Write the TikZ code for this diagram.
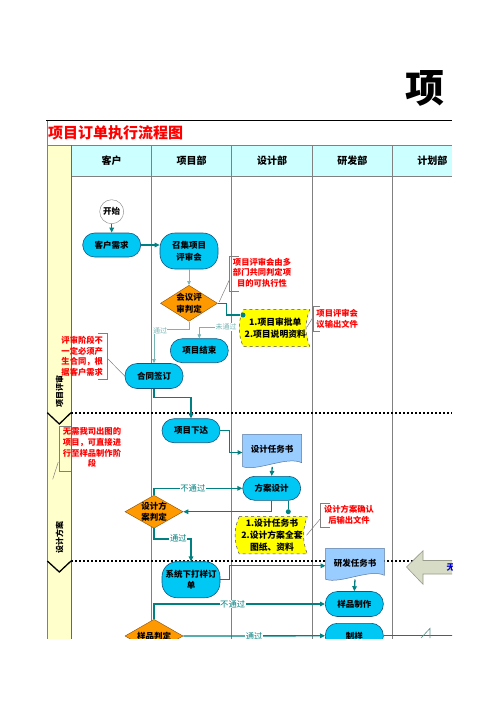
\documentclass[tikz,border=0pt]{standalone}
\usepackage{fontspec}
\setmainfont{Noto Sans CJK SC}
\usetikzlibrary{arrows.meta,calc,shapes.geometric}
\definecolor{cyanfill}{RGB}{0,200,245}
\definecolor{nodeedge}{RGB}{20,85,125}
\definecolor{orangefill}{RGB}{255,153,0}
\definecolor{orangeedge}{RGB}{150,90,20}
\definecolor{docblue}{RGB}{153,204,255}
\definecolor{docedge}{RGB}{90,120,160}
\definecolor{tapeyellow}{RGB}{255,255,0}
\definecolor{flowteal}{RGB}{0,128,128}
\definecolor{lightteal}{RGB}{120,180,180}
\definecolor{headcyan}{RGB}{204,255,255}
\definecolor{bandyellow}{RGB}{255,255,204}
\definecolor{gridgray}{RGB}{128,128,128}
\definecolor{notered}{RGB}{255,0,0}
\definecolor{khaki}{RGB}{214,220,198}
\definecolor{khakiedge}{RGB}{150,155,140}
\definecolor{textblue}{RGB}{0,0,204}
\newcommand\myfnode{\fontsize{8.5}{11.5}\selectfont\bfseries}
\newcommand\myftape{\fontsize{8.8}{11.8}\selectfont\bfseries}
\newcommand\myflbl{\fontsize{8.3}{9}\selectfont}
\newcommand\myflbls{\fontsize{7}{8}\selectfont}
\newcommand\myfnote{\fontsize{8.3}{10.7}\selectfont\bfseries}
\newcommand\myfhead{\fontsize{10}{11}\selectfont\bfseries}
\newcommand\myfband{\fontsize{8}{9}\selectfont\bfseries}
\newcommand\docshape[6]{%
  \path[docst] ({#2-#4/2},{#3-#5/2}) -- ({#2+#4/2},{#3-#5/2}) -- ({#2+#4/2},{#3+#5/2-4})
    .. controls ({#2+#4/4},{#3+#5/2-11}) and ({#2-#4/4},{#3+#5/2+5}) .. ({#2-#4/2},{#3+#5/2}) -- cycle;
  \node[doctext, minimum width=#4pt, minimum height=#5pt] (#1) at (#2,#3) {\raisebox{2.5pt}{#6}};}
\newcommand\tapeshape[6]{%
  \path[tapest] ({#2-#4/2+2.5},{#3-#5/2}) -- ({#2+#4/2},{#3-#5/2})
    .. controls ({#2+#4/2-5},{#3-#5/6}) and ({#2+#4/2-5},{#3+#5/6}) .. ({#2+#4/2},{#3+#5/2})
    -- ({#2-#4/2+2.5},{#3+#5/2})
    .. controls ({#2-#4/2-3},{#3+#5/6}) and ({#2-#4/2-3},{#3-#5/6}) .. ({#2-#4/2+2.5},{#3-#5/2}) -- cycle;
  \node[tapetext, minimum width=#4pt, minimum height=#5pt] (#1) at (#2,#3) {#6};}
\begin{document}
\begin{tikzpicture}[x=1pt,y=-1pt,
  proc/.style={draw=nodeedge, fill=cyanfill, line width=0.6pt, rounded corners=12pt, minimum width=58pt, minimum height=24pt, inner sep=0pt, align=center, font=\myfnode},
  proctall/.style={proc, rounded corners=15pt, minimum height=36pt},
  decision/.style={diamond, draw=orangeedge, fill=orangefill, line width=0.5pt, inner sep=0pt, minimum width=58pt, minimum height=34pt},
  dtext/.style={align=center, font=\myfnode, inner sep=0pt},
  docst/.style={draw=docedge, fill=docblue, line width=0.5pt},
  doctext/.style={inner sep=0pt, font=\myfnode},
  tapest/.style={draw=black!70, fill=tapeyellow, dashed, line width=0.5pt},
  tapetext/.style={inner sep=0pt, align=center, font=\myftape},
  flow/.style={draw=flowteal, line width=1.3pt, -{Triangle[length=5pt,width=4.5pt]}},
  thinflow/.style={draw=lightteal, line width=0.6pt, -{Triangle[length=4pt,width=3.5pt]}},
  link/.style={draw=flowteal, line width=1.3pt},
  dotst/.style={circle, fill=flowteal, inner sep=0pt, minimum size=5pt},
  lbl/.style={fill=white, inner sep=0.6pt, text=flowteal, font=\myflbl},
  lbllight/.style={fill=white, inner sep=0.4pt, text=lightteal, font=\myflbls},
  note/.style={text=notered, align=center, inner sep=0pt, font=\myfnote},
  bracket/.style={draw=gridgray, line width=0.5pt},
  lane/.style={draw=gridgray, line width=0.5pt},
  sepline/.style={line width=1.6pt, dash pattern=on 2pt off 2pt},
  chev/.style={line width=1.3pt},
  headtxt/.style={font=\myfhead, inner sep=0pt},
  bandlbl/.style={rotate=90, font=\myfband, inner sep=0pt}]
\useasboundingbox (0,0) rectangle (496,702);
\node[font=\fontsize{39}{39}\selectfont\bfseries, inner sep=0pt] (bigtitle) at (425,88.5) {项};
\begin{scope}
\clip (40,110) rectangle (452,638);
% table background
\fill[headcyan] (71,145) rectangle (452,175.5);
\fill[bandyellow] (47,145) rectangle (71,640);
\node[anchor=west, text=notered, font=\fontsize{15}{15}\selectfont\bfseries, inner sep=0pt] (title) at (48,133.3) {项目订单执行流程图};
\draw[line width=1.2pt] (46,120.7) -- (452,120.7);
\draw[lane] (47,120.7) -- (47,640);
\draw[lane] (47,145) -- (452,145);
\draw[gridgray, line width=1.6pt] (71,176.5) -- (452,176.5);
\draw[draw=black!60, line width=0.8pt] (71,145) -- (71,640);
\foreach \lx in {151.7,231.7,312.3,392.3} { \draw[lane] (\lx,145) -- (\lx,640); }
% headers
\node[headtxt] (h1) at (111.7,160.3) {客户};
\node[headtxt] (h2) at (191.7,160.3) {项目部};
\node[headtxt] (h3) at (272,160.3) {设计部};
\node[headtxt] (h4) at (352.3,160.3) {研发部};
\node[headtxt] (h5) at (432.3,160.3) {计划部};
% separators
\draw[sepline] (71,412.7) -- (452,412.7);
\draw[sepline] (71,561) -- (452,561);
\draw[chev] (47.3,412.7) -- (59.3,424) -- (71,412.7);
\draw[chev] (47.3,561) -- (59.3,572) -- (71,561);
\node[bandlbl] (band1) at (59.5,391) {项目评审};
\node[bandlbl] (band2) at (59.5,537) {设计方案};
% big arrow
\path[fill=khaki, draw=khakiedge, line width=0.6pt] (406.5,567) -- (423,550.7) -- (423,560.5) -- (470,560.5) -- (470,574) -- (423,574) -- (423,584.3) -- cycle;
\node[anchor=west, text=textblue, font=\myfnode, inner sep=0pt] (cutblue) at (446.5,567.5) {无};
% nodes
\node[circle, draw=gridgray, fill=white, minimum size=24pt, inner sep=0pt, font=\myfnode] (start) at (111.7,211.7) {开始};
\node[proc] (kh) at (111.7,245) {客户需求};
\node[proctall] (zj) at (189,251) {召集项目\\评审会};
\node[decision, minimum width=57pt, minimum height=36pt] (d1) at (189,303.3) {};
\node[dtext] (d1t) at (d1) {会议评\\审判定};
\node[proc] (pj) at (199.3,350.7) {项目结束};
\node[proc, minimum height=25pt] (ht) at (154,376) {合同签订};
\node[proc] (xd) at (191,430.7) {项目下达};
\docshape{sjrws}{272.2}{450.5}{59}{32.4}{设计任务书}
\node[proc] (fasj) at (271.7,488.3) {方案设计};
\node[decision, minimum height=33pt] (d2) at (154,511.7) {};
\node[dtext] (d2t) at (d2) {设计方\\案判定};
\tapeshape{t1}{275.3}{328}{69}{37.4}{1.项目审批单\\2.项目说明资料}
\tapeshape{t2}{272}{535.3}{70.6}{37.3}{1.设计任务书\\2.设计方案全套\\图纸、资料}
\node[proctall] (xt) at (191,579.7) {系统下打样订\\单};
\docshape{yfrws}{355}{563.8}{58.6}{31}{研发任务书}
\node[proc, minimum height=25pt] (ypzz) at (354.3,604) {样品制作};
\node[decision, minimum height=33.4pt] (d3) at (154,636) {};
\node[dtext] (d3t) at (d3) {样品判定};
\node[proc, minimum height=25pt] (zy) at (354.3,635.8) {制样};
\node[dotst] (dot1) at (243,315) {};
\node[dotst] (dot2) at (288.3,511.7) {};
% connectors
\draw[flow] (start) -- (kh);
\draw[flow] (kh.east) -- (kh.east -| zj.west);
\draw[thinflow] (zj.south) -- (d1.north);
\draw[thinflow] (d1.south) -- ++(0,8) -| (ht.north);
\node[lbllight] (lb1) at (160,330.5) {通过};
\coordinate (wstart) at (235,327);
\draw[thinflow] (wstart) -| (pj.north);
\node[lbllight] (lb2) at (226,327) {未通过};
\draw[link] (d1.east) -- ++(9,0) |- (dot1);
\draw[flow] (ht.south) -- ++(0,9) -| (xd.north);
\draw[flow] (xd.east) -- ++(9,0) |- ($(sjrws.west)+(0,2)$);
\draw[flow] (sjrws.south) -- (fasj.north);
\draw[flow] (fasj.south) |- (d2.east);
\draw[link] (fasj.south -| dot2) -- (dot2);
\draw[flow] (d2.north) |- (fasj.west) node[lbl, pos=0.72] (lb3) {不通过};
\draw[flow] (d2.south) -- ++(0,10.6) -| (xt.north);
\node[lbl] (lb4) at (178.3,538.3) {通过};
\draw[flow] (xt.east) -- ++(9,0) |- ($(yfrws.west)+(0,2)$);
\draw[flow] (yfrws.south) -- (ypzz.north);
\draw[flow] (d3.north) |- (ypzz.west) node[lbl, pos=0.73] (lb5) {不通过};
\draw[flow] (d3.east) -- (zy.west) node[lbl, midway] (lb6) {通过};
\coordinate (zyend) at (460,635.8);
\draw[flowteal, line width=0.8pt] (zy.east) -- (zyend);
\draw[draw=khakiedge!60!flowteal, line width=0.6pt] (421,638) -- (430,628.3) -- (430,638);
% notes
\node[note] (c1) at (262,272.7) {项目评审会由多\\部门共同判定项\\目的可执行性};
\draw[bracket] (239.3,256) -- (229.3,256) -- (229.3,291) -- (239.3,291);
\coordinate (c1a) at (229.3,280);
\draw[bracket] (c1a) -- ($(d1.east)+(1.5,-1.5)$);
\node[note] (c2) at (337.2,318.8) {项目评审会\\议输出文件};
\draw[bracket] (320,306.7) -- (313.3,306.7) -- (313.3,331) -- (320,331);
\coordinate (c2a) at (313.3,316.7);
\draw[bracket] (c2a) -- ($(t1.east)+(-3,-1)$);
\node[note] (c3) at (82.2,356.4) {评审阶段不\\一定必须产\\生合同，根\\据客户需求};
\draw[bracket] (98.3,333.3) -- (107.3,333.3) -- (107.3,379.3) -- (98.3,379.3);
\coordinate (c3a) at (107.3,358.3);
\draw[bracket] (c3a) -- (ht.west);
\node[note] (c4) at (92,447.8) {无需我司出图的\\项目，可直接进\\行至样品制作阶\\段};
\draw[bracket] (70.7,426.7) -- (59.3,426.7) -- (59.3,471) -- (70.7,471);
\coordinate (c4a) at (58.3,462);
\coordinate (c4b) at (52.7,479.3);
\draw[bracket] (c4a) -- (c4b);
\node[note] (c5) at (349,515) {设计方案确认\\后输出文件};
\draw[bracket] (330,503.3) -- (320.7,503.3) -- (320.7,527.7) -- (330,527.7);
\coordinate (c5a) at (320.7,518.3);
\draw[bracket] (c5a) -- ($(t2.east)+(-1,0)$);
\end{scope}
\end{tikzpicture}
\end{document}
